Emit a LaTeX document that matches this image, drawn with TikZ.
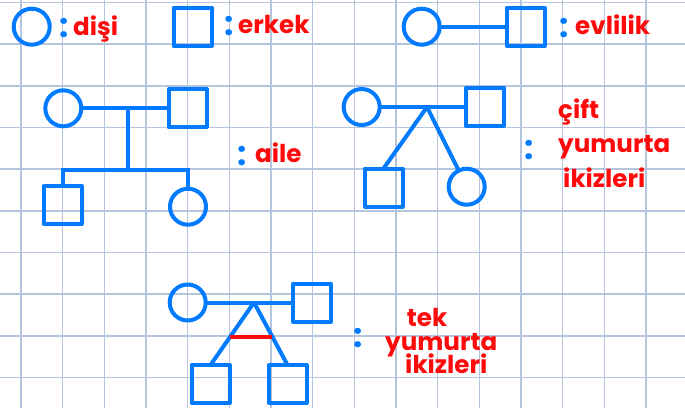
\documentclass[tikz,border=0pt]{standalone}
\usepackage{fontspec}
\setmainfont{Poppins}
\usetikzlibrary{calc}
\definecolor{penblue}{RGB}{0,122,255}
\definecolor{penred}{RGB}{255,10,10}
\definecolor{gridblue}{RGB}{182,197,222}
\begin{document}
\begin{tikzpicture}[x=0.03cm, y=-0.03cm,
  fem/.style={circle, draw=penblue, line width=0.12cm, minimum size=1.08cm, inner sep=0pt, outer sep=0pt},
  mal/.style={rectangle, draw=penblue, line width=0.12cm, line join=round, minimum size=1.14cm, inner sep=0pt, outer sep=0pt},
  tie/.style={draw=penblue, line width=0.12cm},
  word/.style={anchor=base west, text=penred, font=\bfseries\fontsize{21}{21}\selectfont, inner sep=0pt},
  sep/.style={text=penblue, font=\bfseries\fontsize{28}{28}\selectfont, inner sep=0pt}]
  \fill[white] (0,0) rectangle (685,408);
  \useasboundingbox (0,0) rectangle (685,408);
  \foreach \k in {0,...,15} \draw[gridblue, line width=0.045cm] ({21+41.67*\k},0) -- ({21+41.67*\k},408);
  \foreach \k in {0,...,9} \draw[gridblue, line width=0.045cm] (0,{2.5+41.67*\k}) -- (685,{2.5+41.67*\k});

  \node[fem] (f0) at (31.7, 26.7) {};
  \node[sep] (k0) at (64, 28) {:};
  \node[word] (w0) at (73, 35.5) {dişi};
  \node[mal] (m0) at (192.5, 26.5) {};
  \node[sep] (k1) at (229, 26.5) {:};
  \node[word] (w1) at (238, 33) {erkek};

  \node[fem] (f1) at (421.7, 26.7) {};
  \node[mal] (m1) at (525.5, 26.7) {};
  \draw[tie] (f1) -- (m1);
  \node[sep] (k2) at (564, 28.3) {:};
  \node[word] (w2) at (575, 34) {evlilik};

  \node[fem] (f2) at (63.3, 108.3) {};
  \node[mal] (m2) at (187.5, 108.3) {};
  \coordinate (j2) at (127.7, 108.3);
  \coordinate (s2) at (127.7, 170);
  \node[mal] (c2a) at (62.5, 205) {};
  \node[fem] (c2b) at (188, 206.7) {};
  \draw[tie] (f2) -- (m2);
  \draw[tie] (j2) -- (s2);
  \draw[tie] (c2a.north) |- (s2) -| (c2b.north);
  \node[sep] (k3) at (242, 156.5) {:};
  \node[word] (w3) at (255, 162) {aile};

  \node[fem] (f3) at (361.7, 107) {};
  \node[mal] (m3) at (485, 107) {};
  \coordinate (a3) at (427, 107);
  \node[mal] (c3a) at (383.5, 187.5) {};
  \node[fem] (c3b) at (466.7, 186.7) {};
  \draw[tie] (f3) -- (m3);
  \draw[tie] (a3) -- (c3a.north);
  \draw[tie] (a3) -- (c3b);
  \node[sep] (k4) at (529, 150) {:};
  \node[word] (w4) at (558, 118) {çift};
  \node[word] (w5) at (558, 152.7) {yumurta};
  \node[word] (w6) at (563, 187.3) {ikizleri};

  \node[fem] (f4) at (187.7, 302.5) {};
  \node[mal] (m4) at (312, 302.5) {};
  \coordinate (a4) at (254, 302.5);
  \node[mal] (c4a) at (210.5, 384) {};
  \node[mal] (c4b) at (287.5, 384) {};
  \draw[tie] (f4) -- (m4);
  \draw[tie] (a4) -- (c4a.north);
  \draw[tie] (a4) -- (c4b.north);
  \coordinate (b4a) at ($(a4)!0.55!(c4a.north)$);
  \coordinate (b4b) at ($(a4)!0.55!(c4b.north)$);
  \draw[penred, line width=0.12cm] (b4a) -- (b4b);
  \node[sep] (k5) at (358, 338.3) {:};
  \node[word] (w7) at (406.7, 326.7) {tek};
  \node[word] (w8) at (385, 350) {yumurta};
  \node[word] (w9) at (405, 373) {ikizleri};
\end{tikzpicture}
\end{document}
